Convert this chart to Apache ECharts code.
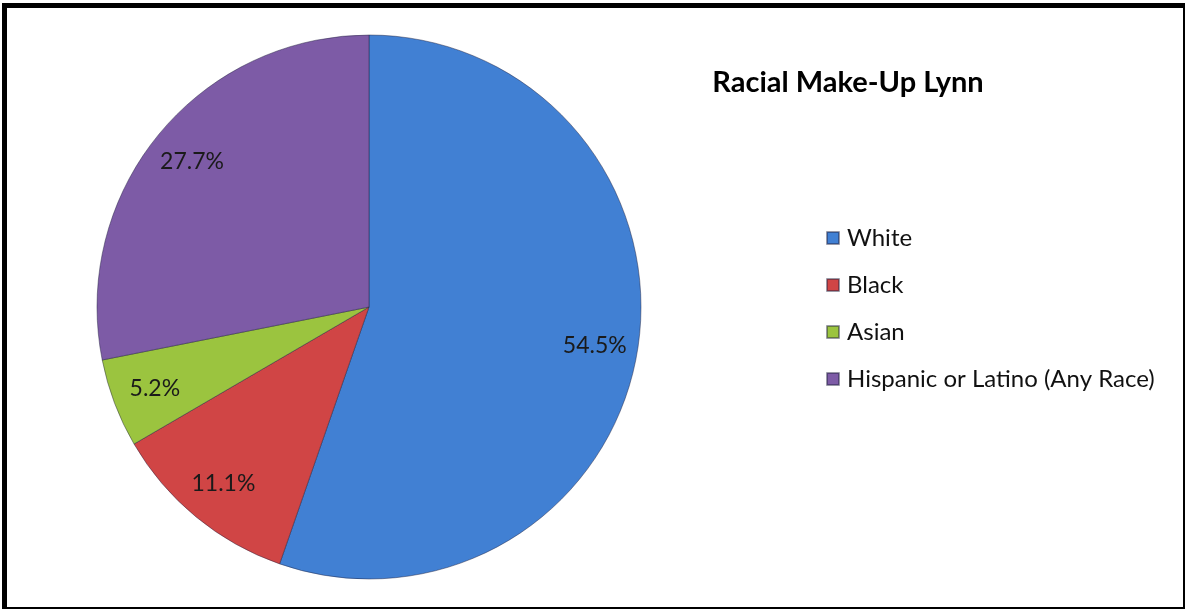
<!DOCTYPE html>
<html>
<head>
<meta charset="utf-8">
<script src="https://cdn.jsdelivr.net/npm/echarts@6/dist/echarts.min.js"></script>
<style>
html,body{margin:0;padding:0;background:#fff;}
#chart{width:1186px;height:610px;}
</style>
</head>
<body>
<div id="chart"></div>
<script>
const titleText = 'Racial Make-Up Lynn';
const categories = ['White', 'Black', 'Asian', 'Hispanic or Latino (Any Race)'];
const values = [54.5, 11.1, 5.2, 27.7];
const colors = ['#4180D3', '#D04545', '#9BC43F', '#7D5BA6'];

const FONT = 'Lato';
const pieData = categories.map((c, i) => ({ name: c, value: values[i], itemStyle: { color: colors[i] } }));
const labelData = categories.map((c, i) => ({ name: c, value: values[i] }));

const chart = echarts.init(document.getElementById('chart'), null, { renderer: 'canvas' });
chart.setOption({
  animation: false,
  backgroundColor: '#ffffff',
  title: {
    text: titleText,
    left: 843, top: 63,
    textAlign: 'center',
    textStyle: { fontFamily: FONT, fontWeight: 'bold', fontSize: 29, color: '#000' }
  },
  legend: {
    orient: 'vertical',
    left: 821, top: 221,
    itemWidth: 12, itemHeight: 12,
    itemGap: 23,
    icon: 'rect',
    data: categories,
    textStyle: { fontFamily: FONT, fontSize: 24, color: '#111', padding: [0, 0, 0, 3] }
  },
  graphic: [
    { type: 'rect', shape: { x: 2, y: 3, width: 1183, height: 5 }, style: { fill: '#000' }, z: 100 },
    { type: 'rect', shape: { x: 2, y: 3, width: 5, height: 606 }, style: { fill: '#000' }, z: 100 },
    { type: 'rect', shape: { x: 1183, y: 3, width: 2, height: 606 }, style: { fill: '#000' }, z: 100 },
    { type: 'rect', shape: { x: 2, y: 607, width: 1183, height: 2 }, style: { fill: '#000' }, z: 100 }
  ],
  series: [
    {
      type: 'pie',
      center: [369, 307],
      radius: [0, 272],
      startAngle: 90,
      clockwise: true,
      avoidLabelOverlap: false,
      label: { show: false },
      labelLine: { show: false },
      itemStyle: { borderColor: 'rgba(30,30,60,0.45)', borderWidth: 1 },
      emphasis: { disabled: true },
      data: pieData
    },
    {
      type: 'pie',
      center: [369, 307],
      radius: [180, 272],
      startAngle: 90,
      clockwise: true,
      silent: true,
      avoidLabelOverlap: false,
      itemStyle: { color: 'rgba(0,0,0,0)', borderWidth: 0 },
      label: {
        show: true,
        position: 'inside',
        formatter: p => p.value.toFixed(1) + '%',
        fontFamily: FONT, fontSize: 23, color: '#1a1a1a'
      },
      labelLine: { show: false },
      emphasis: { disabled: true },
      data: labelData
    }
  ]
});
</script>
</body>
</html>
